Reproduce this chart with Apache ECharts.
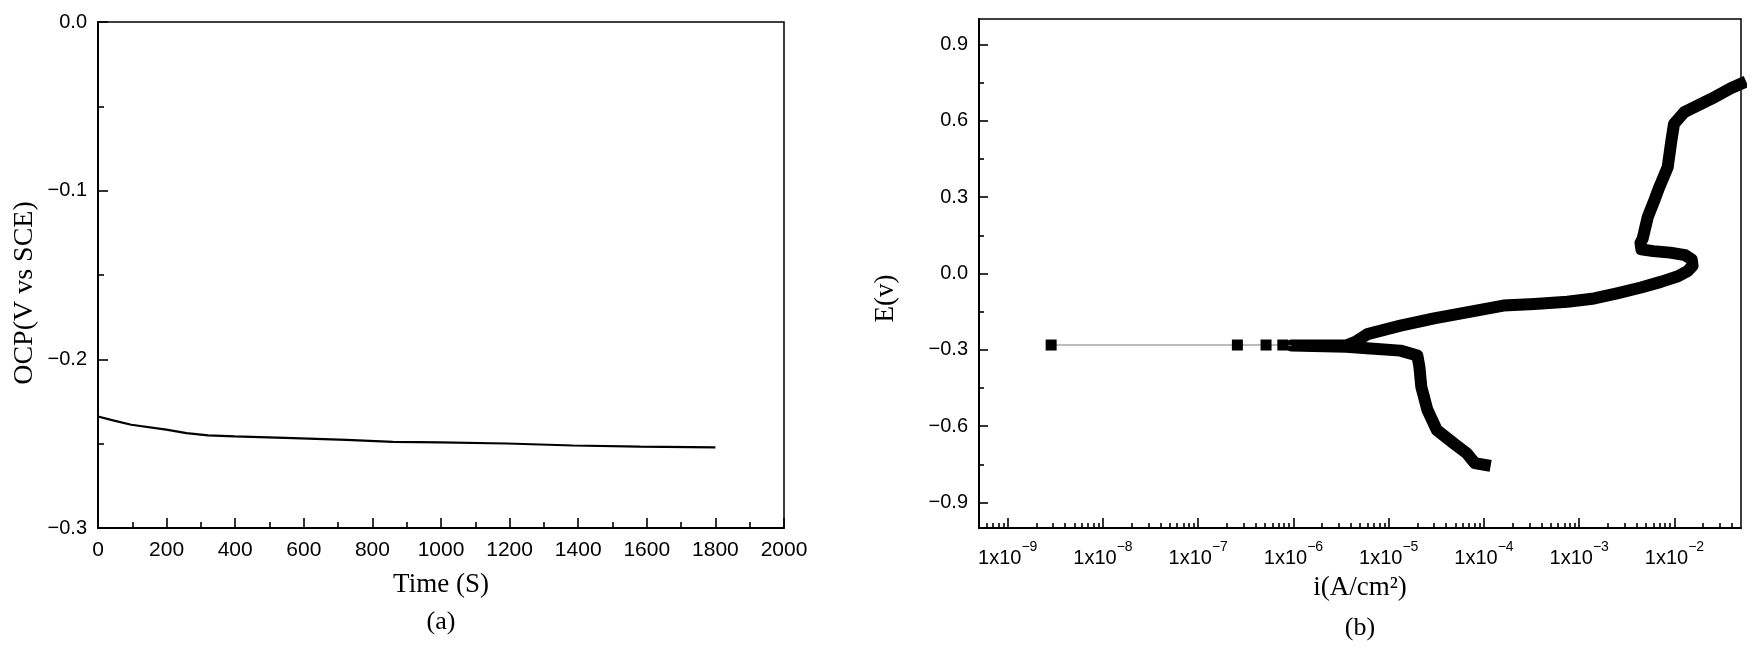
<!DOCTYPE html>
<html><head><meta charset="utf-8">
<script src="https://cdn.jsdelivr.net/npm/echarts@6.0.0/dist/echarts.min.js"></script>
<style>html,body{margin:0;padding:0;background:#fff}#c{width:1762px;height:648px}</style>
</head><body><div id="c"></div>
<script>
// ---- (a) open circuit potential vs time ----
const ocpTime  = [0, 44, 97, 199, 258, 321, 399, 569, 724, 860, 996, 1191, 1385, 1579, 1800];
const ocpValue = [-0.2339, -0.2362, -0.2388, -0.2417, -0.2437, -0.2451, -0.2457, -0.2467, -0.2477, -0.2489, -0.2492, -0.2499, -0.2511, -0.2518, -0.2522];
const tRange = [0, 2000];
const tMajor = [0, 200, 400, 600, 800, 1000, 1200, 1400, 1600, 1800, 2000];
const tMinor = [100, 300, 500, 700, 900, 1100, 1300, 1500, 1700, 1900];
const ocpRange = [-0.3, 0];
const ocpMajor = [-0.3, -0.2, -0.1, 0];
const ocpMinor = [-0.25, -0.15, -0.05];

// ---- (b) potentiodynamic polarization ----
const sparseCurrent   = [2.86e-9, 2.58e-7, 5.16e-7, 7.74e-7, 9.5e-7];
const sparsePotential = [-0.281, -0.281, -0.281, -0.281, -0.283];
const sparseMarked    = [true, true, true, true, false];

const bandCurrent = [1.02e-4, 8.0e-5, 6.6e-5, 4.8e-5, 3.2e-5, 2.55e-5, 2.2e-5, 2.1e-5, 2.0e-5, 1.33e-5,
  5.9e-6, 3.6e-6, 9.5e-7, 3.6e-6, 4.4e-6, 6.0e-6, 1.33e-5, 3.0e-5, 1.6e-4, 3.4e-4,
  7.5e-4, 1.44e-3, 2.5e-3, 4.46e-3, 7.2e-3, 1.09e-2, 1.38e-2, 1.55e-2, 1.52e-2, 1.3e-2,
  9.0e-3, 6.0e-3, 4.5e-3, 4.4e-3, 4.64e-3, 5.25e-3, 6.15e-3, 6.95e-3, 8.5e-3, 9.3e-3,
  9.9e-3, 1.27e-2, 2.43e-2, 3.95e-2, 4.95e-2];
const bandPotential = [-0.752, -0.745, -0.706, -0.667, -0.615, -0.536, -0.445, -0.366, -0.322, -0.303,
  -0.294, -0.288, -0.283, -0.282, -0.270, -0.238, -0.205, -0.176, -0.126, -0.120,
  -0.111, -0.098, -0.078, -0.055, -0.033, -0.011, 0.010, 0.030, 0.055, 0.072,
  0.082, 0.088, 0.095, 0.120, 0.137, 0.222, 0.287, 0.340, 0.418, 0.523,
  0.588, 0.634, 0.686, 0.729, 0.745];

const iRange = [5e-10, 5e-2];
const iMajor = [1e-9, 1e-8, 1e-7, 1e-6, 1e-5, 1e-4, 1e-3, 1e-2];
const iMinorMult = [2, 3, 4, 5, 6, 7, 8, 9];
const eRange = [-1, 1];
const eMajor = [-0.9, -0.6, -0.3, 0, 0.3, 0.6, 0.9];
const eMinor = [-0.75, -0.45, -0.15, 0.15, 0.45, 0.75];

const iMinor = [];
[1e-10].concat(iMajor).forEach(d => iMinorMult.forEach(m => {
  const v = d * m;
  if (v > iRange[0] && v < iRange[1]) iMinor.push(v);
}));

const SANS = 'Liberation Sans';
const SERIF = 'Liberation Serif';
const minus = v => (v < -1e-12 ? '\u2212' : '') + Math.abs(v).toFixed(1);

const chart = echarts.init(document.getElementById('c'));
const lineAx = {show: true, onZero: false, lineStyle: {color: '#000', width: 2}};
const frame = {show: true, borderColor: '#000', borderWidth: 1.5, backgroundColor: 'transparent'};
const tickStyle = {color: '#000', width: 1.6};

function tickAxis(type, grid, pos, range, values, len) {
  return {
    type: type, gridIndex: grid, position: pos, min: range[0], max: range[1],
    axisLine: {show: false, onZero: false},
    axisTick: {show: true, inside: true, length: len, customValues: values, lineStyle: tickStyle},
    splitLine: {show: false},
    axisLabel: {show: false}
  };
}

chart.setOption({
  animation: false,
  backgroundColor: '#fff',
  grid: [
    Object.assign({left: 98, top: 22, width: 686, height: 506}, frame),
    Object.assign({left: 979, top: 19, width: 762, height: 509}, frame)
  ],
  xAxis: [
    {
      type: 'value', gridIndex: 0, position: 'bottom', min: tRange[0], max: tRange[1],
      axisLine: lineAx,
      axisTick: {show: true, inside: true, length: 10, customValues: tMajor, lineStyle: tickStyle},
      splitLine: {show: false},
      axisLabel: {color: '#000', fontSize: 21, fontFamily: SANS, margin: 12, customValues: tMajor, formatter: v => String(v)},
      name: 'Time (S)', nameLocation: 'middle', nameGap: 43,
      nameTextStyle: {color: '#000', fontSize: 27, fontFamily: SERIF}
    },
    tickAxis('value', 0, 'bottom', tRange, tMinor, 6),
    {
      type: 'log', logBase: 10, gridIndex: 1, position: 'bottom', min: iRange[0], max: iRange[1],
      axisLine: lineAx,
      axisTick: {show: true, inside: true, length: 10, customValues: iMajor, lineStyle: tickStyle},
      splitLine: {show: false},
      axisLabel: {
        color: '#000', fontSize: 20, fontFamily: SANS, margin: 12, customValues: iMajor,
        formatter: v => '{b|1x10}{s|\u2212' + Math.abs(Math.round(Math.log10(v))) + '}',
        rich: {
          b: {fontSize: 20, fontFamily: SANS, color: '#000', lineHeight: 28, verticalAlign: 'bottom'},
          s: {fontSize: 14, fontFamily: SANS, color: '#000', lineHeight: 28, verticalAlign: 'top'}
        }
      },
      name: 'i(A/cm\u00B2)', nameLocation: 'middle', nameGap: 46,
      nameTextStyle: {color: '#000', fontSize: 27, fontFamily: SERIF}
    },
    tickAxis('log', 1, 'bottom', iRange, iMinor, 5)
  ],
  yAxis: [
    {
      type: 'value', gridIndex: 0, position: 'left', min: ocpRange[0], max: ocpRange[1],
      axisLine: lineAx,
      axisTick: {show: true, inside: true, length: 10, customValues: ocpMajor, lineStyle: tickStyle},
      splitLine: {show: false},
      axisLabel: {color: '#000', fontSize: 20, fontFamily: SANS, margin: 11, customValues: ocpMajor, formatter: minus},
      name: 'OCP(V vs SCE)', nameLocation: 'middle', nameGap: 59,
      nameTextStyle: {color: '#000', fontSize: 28, fontFamily: SERIF, padding: [0, 36, 0, 0]}
    },
    tickAxis('value', 0, 'left', ocpRange, ocpMinor, 6),
    {
      type: 'value', gridIndex: 1, position: 'left', min: eRange[0], max: eRange[1],
      axisLine: lineAx,
      axisTick: {show: true, inside: true, length: 9, customValues: eMajor, lineStyle: tickStyle},
      splitLine: {show: false},
      axisLabel: {color: '#000', fontSize: 20, fontFamily: SANS, margin: 11, customValues: eMajor, formatter: minus},
      name: 'E(v)', nameLocation: 'middle', nameGap: 80,
      nameTextStyle: {color: '#000', fontSize: 27, fontFamily: SERIF, padding: [0, 50, 0, 0]}
    },
    tickAxis('value', 1, 'left', eRange, eMinor, 5)
  ],
  graphic: [
    {type: 'text', x: 441, y: 622, style: {text: '(a)', font: '26px "Liberation Serif"', fill: '#000', align: 'center', verticalAlign: 'middle'}},
    {type: 'text', x: 1360, y: 628, style: {text: '(b)', font: '26px "Liberation Serif"', fill: '#000', align: 'center', verticalAlign: 'middle'}}
  ],
  series: [
    {
      type: 'line', xAxisIndex: 0, yAxisIndex: 0, symbol: 'none',
      data: ocpTime.map((t, k) => [t, ocpValue[k]]),
      lineStyle: {color: '#000', width: 2.2}
    },
    {
      type: 'line', xAxisIndex: 2, yAxisIndex: 2, z: 4,
      data: sparseCurrent.map((c, k) => ({value: [c, sparsePotential[k]], symbol: sparseMarked[k] ? 'rect' : 'none'})),
      symbol: 'rect', symbolSize: 11, itemStyle: {color: '#000'},
      lineStyle: {color: '#7a7a7a', width: 1.2}
    },
    {
      type: 'line', xAxisIndex: 2, yAxisIndex: 2, symbol: 'none', z: 3,
      data: bandCurrent.map((c, k) => [c, bandPotential[k]]),
      lineStyle: {color: '#000', width: 12, cap: 'square', join: 'round'}
    }
  ]
});
</script>
</body></html>
